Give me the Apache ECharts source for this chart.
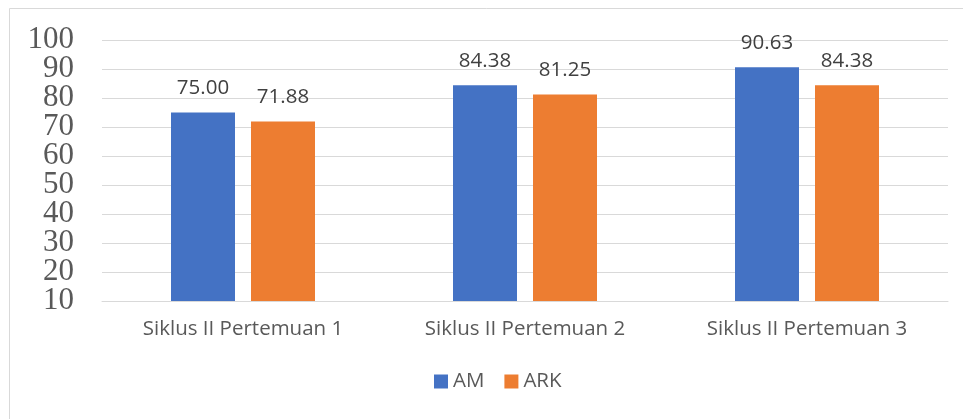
<!DOCTYPE html>
<html><head><meta charset="utf-8">
<script src="https://cdn.jsdelivr.net/npm/echarts@6/dist/echarts.min.js"></script>
<style>html,body{margin:0;padding:0;background:#fff}#c{width:963px;height:419px}</style>
</head><body><div id="c"></div>
<script>
const categories = ["Siklus II Pertemuan 1", "Siklus II Pertemuan 2", "Siklus II Pertemuan 3"];
const amValues = [75.00, 84.38, 90.63];
const arkValues = [71.88, 81.25, 84.38];
const seriesNames = ["AM", "ARK"];
const yTicks = [10, 20, 30, 40, 50, 60, 70, 80, 90, 100];

const chart = echarts.init(document.getElementById('c'));
const labelStyle = {show: true, position: 'top', distance: 14, color: '#404040', fontSize: 20.5, fontFamily: 'Open Sans', formatter: p => p.value.toFixed(2)};
// Two overlaid y axes on the same scale, each showing every other tick label,
// so that the large serif labels are not dropped by overlap detection.
function yAxisDef(parity, showSplit) {
  return {type: 'value', position: 'left', min: yTicks[0], max: yTicks[yTicks.length - 1], interval: 10,
    axisLine: {show: false}, axisTick: {show: false},
    splitLine: {show: showSplit, lineStyle: {color: '#d9d9d9', width: 1}},
    axisLabel: {fontSize: 31, color: '#595959', fontFamily: 'Liberation Serif', margin: 28, lineHeight: 26,
      showMinLabel: true, showMaxLabel: true,
      formatter: v => (yTicks.indexOf(v) % 2 === parity ? String(v) : '')}};
}
chart.setOption({
  backgroundColor: '#fff',
  animation: false,
  graphic: [{type: 'rect', shape: {x: 9.5, y: 8.5, width: 970, height: 420}, style: {fill: 'none', stroke: '#d9d9d9', lineWidth: 1}, silent: true}],
  grid: {left: 102, right: 15, top: 40, bottom: 118},
  legend: {bottom: 22, left: 429, itemWidth: 14, itemHeight: 14, itemGap: 20, icon: 'rect',
    textStyle: {fontSize: 20.5, color: '#595959', fontFamily: 'Open Sans'}, data: seriesNames},
  xAxis: {type: 'category', data: categories,
    axisLine: {lineStyle: {color: '#d9d9d9'}}, axisTick: {show: false},
    axisLabel: {fontSize: 20.5, color: '#595959', fontFamily: 'Open Sans', margin: 18}},
  yAxis: [yAxisDef(0, true), yAxisDef(1, false)],
  series: [
    {name: seriesNames[0], type: 'bar', data: amValues, barWidth: 64, barGap: '25%', itemStyle: {color: '#4472c4'}, label: labelStyle},
    {name: seriesNames[1], type: 'bar', data: arkValues, barWidth: 64, barGap: '25%', itemStyle: {color: '#ed7d31'}, label: labelStyle}
  ]
});
</script></body></html>
